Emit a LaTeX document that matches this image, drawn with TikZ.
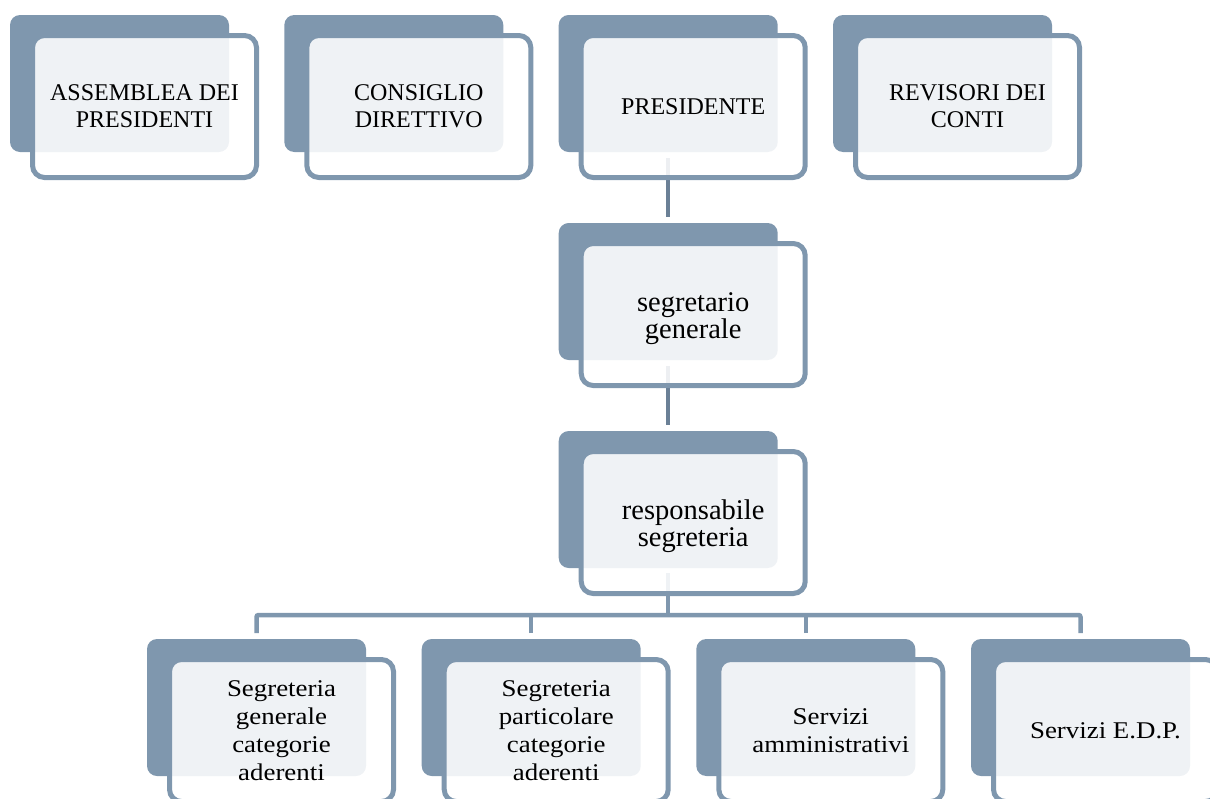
\documentclass[tikz,border=0pt]{standalone}
\usepackage{fontspec}
\setmainfont{Liberation Serif}
\newfontfamily\widefont[FakeStretch=1.12]{Liberation Serif}
\definecolor{slate}{HTML}{7F97AE}
\definecolor{slatedark}{HTML}{6B8096}
\tikzset{
  x=1pt, y=-1pt,
  backbox/.style={fill=slate, draw=none, rounded corners=10pt},
  framebox/.style={draw=slate, line width=5pt, fill=white, fill opacity=0.88, rounded corners=12pt},
  lbl/.style={align=center, text=black, inner sep=0pt},
  capsfont/.style={font=\fontsize{24}{27}\selectfont},
  midfont/.style={font=\fontsize{28.5}{27}\selectfont, yshift=-4pt},
  lowfont/.style={font=\widefont\fontsize{24}{27.8}\selectfont},
  vconn/.style={draw=slatedark, line width=4.5pt},
  busconn/.style={draw=slate, line width=4.5pt, rounded corners=2pt},
}
% #1 name, #2 back x, #3 back y, #4 font style, #5 text
\newcommand{\orgunit}[5]{%
  \fill[backbox] (#2,#3) rectangle ++(219,137);
  \draw[framebox] (#2+22.5,#3+20.5) rectangle ++(224,142);
  \node[lbl,#4] (#1) at (#2+134.5,#3+91.5) {#5};
}
\begin{document}
\begin{tikzpicture}
\useasboundingbox (0,0) rectangle (1210,798);
\clip (0,0) rectangle (1210,798);
% connectors (drawn below the boxes)
\coordinate (c1a) at (668.2,158);
\coordinate (c1b) at (668.2,217);
\coordinate (c2a) at (668.2,366);
\coordinate (c2b) at (668.2,425);
\coordinate (c3a) at (668.2,573);
\coordinate (bus) at (668.2,615);
\coordinate (d1) at (256.5,633);
\coordinate (d2) at (531.2,633);
\coordinate (d3) at (805.8,633);
\coordinate (d4) at (1080.5,633);
\draw[vconn] (c1a) -- (c1b);
\draw[vconn] (c2a) -- (c2b);
\draw[busconn] (c3a) -- (bus);
\draw[busconn] (d1) |- (bus) -| (d4);
\draw[busconn] (d2) -- (d2 |- bus);
\draw[busconn] (d3) -- (d3 |- bus);
% top row
\orgunit{assemblea}{10}{15}{capsfont}{ASSEMBLEA DEI\\PRESIDENTI}
\orgunit{consiglio}{284.3}{15}{capsfont}{CONSIGLIO\\DIRETTIVO}
\orgunit{presidente}{558.7}{15}{capsfont}{PRESIDENTE}
\orgunit{revisori}{833}{15}{capsfont}{REVISORI DEI\\CONTI}
% middle
\orgunit{segretario}{558.7}{223}{midfont}{segretario\\generale}
\orgunit{responsabile}{558.7}{431}{midfont}{responsabile\\segreteria}
% bottom row
\orgunit{segA}{147}{639}{lowfont}{Segreteria\\generale\\categorie\\aderenti}
\orgunit{segB}{421.7}{639}{lowfont}{Segreteria\\particolare\\categorie\\aderenti}
\orgunit{servAmm}{696.3}{639}{lowfont}{Servizi\\amministrativi}
\orgunit{servEDP}{971}{639}{lowfont}{Servizi E.D.P.}
\end{tikzpicture}
\end{document}
